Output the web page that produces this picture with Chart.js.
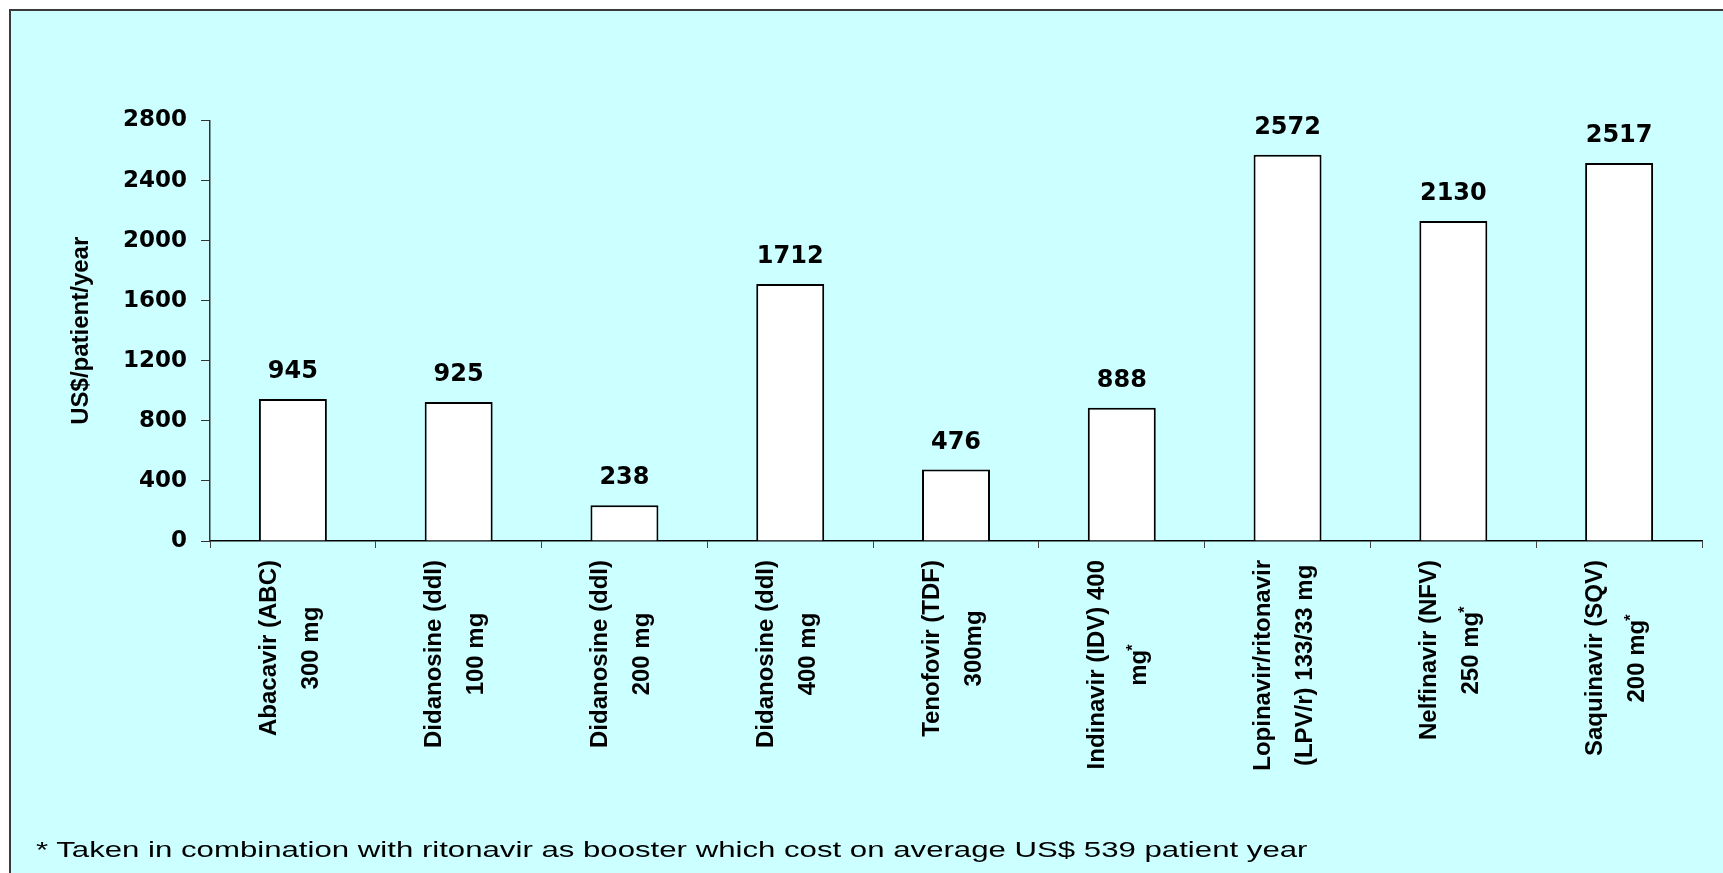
<!DOCTYPE html>
<html>
<head>
<meta charset="utf-8">
<script src="https://cdn.jsdelivr.net/npm/chart.js@4.4.0/dist/chart.umd.min.js"></script>
<style>
  html, body { margin: 0; padding: 0; background: #fff; overflow: hidden; }
  #frame {
    position: absolute; left: 9px; top: 9px; width: 1714px; height: 864px;
    background: #ccffff; border-top: 2px solid #3a3a3a; border-left: 2px solid #3a3a3a;
  }
  #wrap { position: absolute; left: 0; top: 0; width: 1723px; height: 873px; }
  #note {
    position: absolute; left: 36px; top: 837px; color: #000; white-space: nowrap;
    font: 22px "Liberation Sans", Arial, sans-serif; transform-origin: 0 50%;
  }
</style>
</head>
<body>
<div id="frame"></div>
<div id="wrap"><canvas id="chart"></canvas></div>
<div id="note"></div>
<script>
// --- data ---
const categories = [
  ['Abacavir (ABC)', '300 mg'],
  ['Didanosine (ddI)', '100 mg'],
  ['Didanosine (ddI)', '200 mg'],
  ['Didanosine (ddI)', '400 mg'],
  ['Tenofovir (TDF)', '300mg'],
  ['Indinavir (IDV) 400', 'mg*'],
  ['Lopinavir/ritonavir', '(LPV/r) 133/33 mg'],
  ['Nelfinavir (NFV)', '250 mg*'],
  ['Saquinavir (SQV)', '200 mg*']
];
const costs = [945, 925, 238, 1712, 476, 888, 2572, 2130, 2517];
const yTicks = [0, 400, 800, 1200, 1600, 2000, 2400, 2800];
const yTitle = 'US$/patient/year';
const footnote = '* Taken in combination with ritonavir as booster which cost on average US$ 539 patient year';

const labelFont = 'bold 24px "Liberation Sans", Arial, sans-serif';
const starFont = 'bold 16px "Liberation Sans", Arial, sans-serif';

// footnote: real text, stretched to the width it has in the picture
const note = document.getElementById('note');
note.textContent = footnote;
const mctx = document.createElement('canvas').getContext('2d');
mctx.font = '22px "Liberation Sans", Arial, sans-serif';
note.style.transform = 'scaleX(' + (1272 / mctx.measureText(footnote).width) + ')';

// value labels above bars
const valueLabels = {
  id: 'valueLabels',
  afterDatasetsDraw(chart) {
    const ctx = chart.ctx;
    ctx.save();
    ctx.font = 'bold 24px "DejaVu Sans", sans-serif';
    ctx.fillStyle = '#000';
    ctx.textAlign = 'center';
    ctx.textBaseline = 'middle';
    chart.getDatasetMeta(0).data.forEach((bar, i) => {
      ctx.fillText(String(costs[i]), bar.x, bar.y - 27);
    });
    ctx.restore();
  }
};

// two-line rotated category labels, lines centred on each other
function lineWidth(ctx, txt) {
  if (txt.endsWith('*')) {
    ctx.font = labelFont;
    const w = ctx.measureText(txt.slice(0, -1)).width;
    ctx.font = starFont;
    return w + ctx.measureText('*').width;
  }
  ctx.font = labelFont;
  return ctx.measureText(txt).width;
}

function drawLine(ctx, txt, cx, cy) {
  const w = lineWidth(ctx, txt);
  let x = cx - w / 2;
  ctx.textAlign = 'left';
  ctx.textBaseline = 'middle';
  if (txt.endsWith('*')) {
    const base = txt.slice(0, -1);
    ctx.font = labelFont;
    ctx.fillText(base, x, cy);
    x += ctx.measureText(base).width;
    ctx.font = starFont;
    ctx.fillText('*', x - 1, cy - 6);
  } else {
    ctx.font = labelFont;
    ctx.fillText(txt, x, cy);
  }
}

const categoryLabels = {
  id: 'categoryLabels',
  afterDraw(chart) {
    const ctx = chart.ctx;
    const xs = chart.scales.x;
    ctx.save();
    ctx.fillStyle = '#000';
    categories.forEach((lines, i) => {
      const cx = xs.getPixelForValue(i) - 3;
      ctx.save();
      ctx.translate(cx, 560);
      ctx.rotate(-Math.PI / 2);
      const maxW = Math.max(...lines.map(l => lineWidth(ctx, l)));
      lines.forEach((ln, j) => {
        drawLine(ctx, ln, -maxW / 2, (j - (lines.length - 1) / 2) * 42);
      });
      ctx.restore();
    });
    ctx.restore();
  }
};

new Chart(document.getElementById('chart'), {
  type: 'bar',
  data: {
    labels: categories,
    datasets: [{
      data: costs,
      backgroundColor: '#ffffff',
      borderColor: '#000000',
      borderWidth: 2,
      barPercentage: 0.41,
      categoryPercentage: 1
    }]
  },
  options: {
    responsive: true,
    maintainAspectRatio: false,
    animation: false,
    events: [],
    layout: { padding: { left: 0, top: 120.5, right: 21, bottom: 0 } },
    plugins: { legend: { display: false }, tooltip: { enabled: false } },
    scales: {
      x: {
        afterFit(scale) { scale.height = 332; },
        ticks: { display: false },
        grid: { offset: true, drawOnChartArea: false, drawTicks: true, tickLength: 7, color: '#444', lineWidth: 1 },
        border: { display: true, color: '#000', width: 1.5 }
      },
      y: {
        min: yTicks[0],
        max: yTicks[yTicks.length - 1],
        afterFit(scale) { scale.width = 210; },
        afterBuildTicks(scale) { scale.ticks = yTicks.map(v => ({ value: v })); },
        ticks: {
          padding: 14,
          color: '#000',
          callback: v => String(v),
          font: { family: '"DejaVu Sans", sans-serif', size: 23, weight: 'bold' }
        },
        grid: { drawOnChartArea: false, drawTicks: true, tickLength: 9, color: '#333', lineWidth: 1 },
        border: { display: true, color: '#333', width: 1.5 },
        title: {
          display: true,
          text: yTitle,
          color: '#000',
          padding: { top: 67, bottom: 0 },
          font: { family: '"Liberation Sans", Arial, sans-serif', size: 24, weight: 'bold' }
        }
      }
    }
  },
  plugins: [valueLabels, categoryLabels]
});
</script>
</body>
</html>
